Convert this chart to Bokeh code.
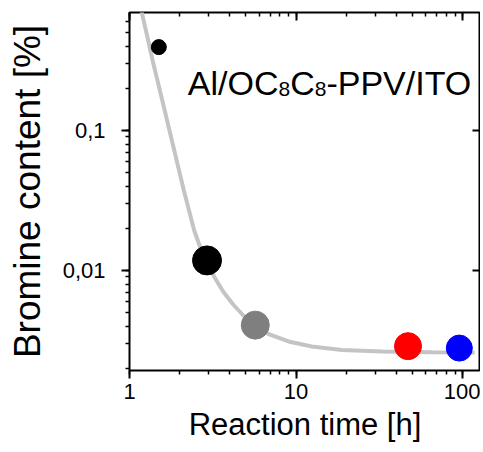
from bokeh.plotting import figure
from bokeh.models import LogTicker, CustomJSTickFormatter, LogAxis, Label, ColumnDataSource
from bokeh.embed import file_html
from bokeh.resources import INLINE

# ---- data ----
time_h = [1.5, 2.92, 5.69, 47.0, 95.5]
bromine_pct = [0.394, 0.0118, 0.00407, 0.00288, 0.00279]
point_colors = ["#000000", "#000000", "#7f7f7f", "#ff0000", "#0000ff"]

fit_time = [1.166, 1.267, 1.377, 1.497, 1.627, 1.857, 2.120, 2.446, 2.648, 2.879,
            3.218, 3.647, 4.192, 4.885, 5.692, 6.917, 9.009, 12.41, 18.84, 32.86,
            65.87, 118.1]
fit_bromine = [0.7559, 0.4931, 0.3162, 0.2096, 0.1389, 0.07197, 0.03728, 0.01931,
               0.01484, 0.01179, 0.009061, 0.007079, 0.005715, 0.004692, 0.003981,
               0.003490, 0.003111, 0.002865, 0.002705, 0.002639, 0.002609, 0.002596]

x_label = "Reaction time [h]"
y_label = "Bromine content [%]"
anno_parts = ["Al/OC", "8", "C", "8", "-PPV/ITO"]

# ---- styling (not data) ----
marker_size = [15, 29, 28, 27, 26]
FONT = "Liberation Sans"

p = figure(width=480, height=450, x_axis_type="log", y_axis_type="log",
           x_range=(1, 128), y_range=(0.00193, 0.696),
           output_backend="svg", toolbar_location=None,
           min_border_left=129, min_border_top=12, min_border_right=0, min_border_bottom=80)
p.outline_line_color = "black"
p.outline_line_width = 2
p.border_fill_color = None
p.background_fill_color = None
p.xgrid.visible = False
p.ygrid.visible = False

fmt = CustomJSTickFormatter(code="return tick.toString().replace('.', ',');")

def make_ticker():
    return LogTicker(mantissas=[1], num_minor_ticks=10)

def tick_axis(ax, outward=True, minors=True):
    """axis that only draws tick marks"""
    ax.ticker = make_ticker()
    ax.formatter = fmt
    ax.axis_line_color = None
    ax.major_tick_line_color = "black"
    ax.minor_tick_line_color = "black" if minors else None
    ax.major_tick_line_width = 2
    ax.minor_tick_line_width = 1.5
    if outward:
        ax.major_tick_out, ax.major_tick_in = 8, 0
        ax.minor_tick_out, ax.minor_tick_in = 4, 0
    else:
        ax.major_tick_out, ax.major_tick_in = 0, 8
        ax.minor_tick_out, ax.minor_tick_in = 0, 4
    ax.major_label_text_color = None
    ax.major_label_text_font_size = "0px"
    ax.major_label_standoff = 0
    ax.axis_label = None

def label_axis(ax, standoff, title, title_size, title_standoff):
    """axis that only draws tick labels and the title"""
    ax.ticker = make_ticker()
    ax.formatter = fmt
    ax.axis_line_color = None
    ax.major_tick_line_color = None
    ax.minor_tick_line_color = None
    ax.major_tick_out = ax.major_tick_in = 0
    ax.minor_tick_out = ax.minor_tick_in = 0
    ax.major_label_text_font = FONT
    ax.major_label_text_color = "black"
    ax.major_label_text_font_size = "22px"
    ax.major_label_standoff = standoff
    ax.axis_label = title
    ax.axis_label_text_font = FONT
    ax.axis_label_text_font_style = "normal"
    ax.axis_label_text_color = "black"
    ax.axis_label_text_font_size = title_size
    ax.axis_label_standoff = title_standoff

# tick-only axes next to the frame
tick_axis(p.xaxis[0])
tick_axis(p.yaxis[0])
top = LogAxis()
tick_axis(top, outward=False)
p.add_layout(top, "above")
right = LogAxis()
tick_axis(right, outward=False, minors=False)
p.add_layout(right, "right")

# label axes stacked outside them
xlab = LogAxis()
label_axis(xlab, 5, x_label, "31px", 5)
p.add_layout(xlab, "below")
ylab = LogAxis()
label_axis(ylab, 16, y_label, "37px", 12)
p.add_layout(ylab, "left")

p.line(fit_time, fit_bromine, line_color="#c4c4c4", line_width=4)

src = ColumnDataSource(dict(x=time_h, y=bromine_pct, c=point_colors, s=marker_size))
p.scatter(x="x", y="y", size="s", marker="circle", fill_color="c", line_color="c", source=src)

# annotation with subscripts
anchor_x, anchor_y = 2.24, 0.2167
sizes = [34, 21, 34, 21, 34]
offs = [0, 90.7, 102.4, 126.9, 138.6]
dys = [0, -6, 0, -6, 0]
for t, s, ox, dy in zip(anno_parts, sizes, offs, dys):
    p.add_layout(Label(x=anchor_x, y=anchor_y, text=t, x_offset=ox, y_offset=dy,
                       text_font=FONT, text_font_size=f"{s}px", text_color="black",
                       text_align="left", text_baseline="alphabetic"))

open("out.html", "w").write(file_html(p, INLINE))
